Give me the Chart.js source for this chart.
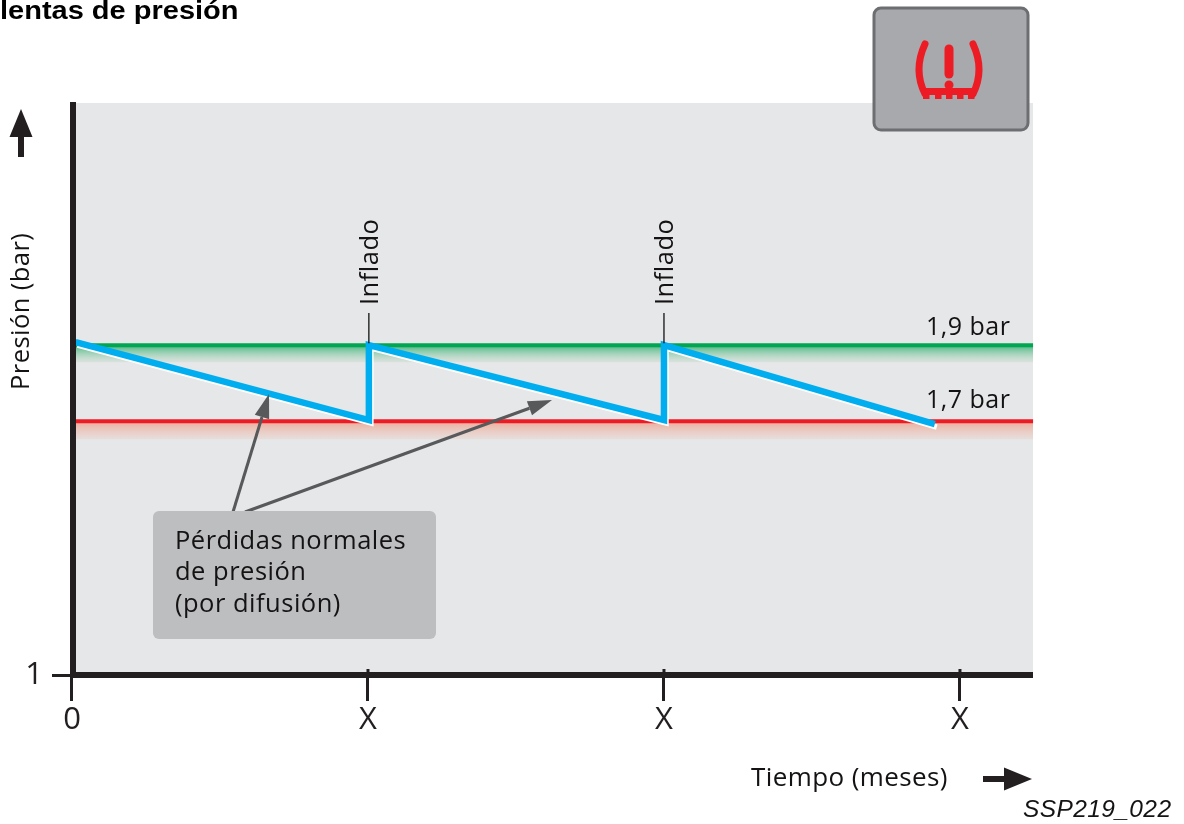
<!DOCTYPE html>
<html>
<head>
<meta charset="utf-8">
<title>Pérdidas lentas de presión</title>
<script src="https://cdn.jsdelivr.net/npm/chart.js@4/dist/chart.umd.min.js"></script>
<style>
html, body { margin: 0; padding: 0; background: #fff; }
canvas { display: block; }
</style>
</head>
<body>
<canvas id="presionChart" width="1184" height="824"></canvas>
<script>
// values (the y axis is only schematic below 1,7 bar)
const tickValuesX = [0, 1, 2, 3];
const tickLabelsX = ['0', 'X', 'X', 'X'];
const tickValuesY = [1.032];
const tickLabelsY = ['1'];

const limitX = [0, 3.247];
const limitGreen = [1.9, 1.9];
const limitRed = [1.7, 1.7];

const pressureX = [0.012, 1.003, 1.003, 2.0, 2.0, 2.915];
const pressureY = [1.908, 1.703, 1.9, 1.703, 1.9, 1.692];

const inflatedAt = [1.003, 2.0];

const TEXT_FONT = '"Open Sans", "Noto Sans", sans-serif';
const ARIAL_FONT = '"Liberation Sans", Arial, sans-serif';
const DARK = '#231f20';
const INK = '#141213';
const GREY_ARROW = '#58595b';
const AXIS_OVERHANG = 2; // axis borders run past the scale ends by this much

function pairs(xs, ys) {
  return xs.map((x, i) => ({ x: x, y: ys[i] }));
}

function label(ctx, text, x, y, size, opts) {
  opts = opts || {};
  ctx.save();
  ctx.font = (opts.style || '') + ' ' + size + 'px ' + (opts.family || TEXT_FONT);
  ctx.fillStyle = opts.color || INK;
  ctx.textAlign = opts.align || 'left';
  ctx.textBaseline = 'alphabetic';
  ctx.letterSpacing = opts.spacing || '0px';
  ctx.translate(x, y);
  if (opts.rotate) ctx.rotate(opts.rotate);
  if (opts.stretch) ctx.scale(opts.stretch, 1);
  ctx.fillText(text, 0, 0);
  ctx.restore();
}

function arrowLine(ctx, x1, y1, x2, y2, headLen, headHalf, width, color) {
  const a = Math.atan2(y2 - y1, x2 - x1);
  const bx = x2 - Math.cos(a) * headLen;
  const by = y2 - Math.sin(a) * headLen;
  ctx.strokeStyle = color;
  ctx.fillStyle = color;
  ctx.lineWidth = width;
  ctx.beginPath();
  ctx.moveTo(x1, y1);
  ctx.lineTo(bx, by);
  ctx.stroke();
  ctx.beginPath();
  ctx.moveTo(x2, y2);
  ctx.lineTo(bx - Math.sin(a) * headHalf, by + Math.cos(a) * headHalf);
  ctx.lineTo(bx + Math.sin(a) * headHalf, by - Math.cos(a) * headHalf);
  ctx.closePath();
  ctx.fill();
}

function roundBox(ctx, x, y, w, h, r) {
  ctx.beginPath();
  ctx.roundRect(x, y, w, h, r);
}

function band(ctx, area, top, depth, color, fade) {
  const g = ctx.createLinearGradient(0, top, 0, top + depth);
  g.addColorStop(0, color);
  g.addColorStop(1, fade);
  ctx.fillStyle = g;
  ctx.fillRect(area.left, top, area.right + AXIS_OVERHANG - area.left, depth);
}

function drawWarningIcon(ctx) {
  ctx.save();
  roundBox(ctx, 874, 8, 154, 122, 7);
  ctx.fillStyle = '#a7a9ac';
  ctx.fill();
  ctx.strokeStyle = '#6d6e71';
  ctx.lineWidth = 3;
  ctx.stroke();

  const red = '#ed1c24';
  ctx.strokeStyle = red;
  ctx.fillStyle = red;
  ctx.lineCap = 'round';
  ctx.lineWidth = 7;
  ctx.beginPath();
  ctx.moveTo(925, 44);
  ctx.quadraticCurveTo(913, 70, 925, 94);
  ctx.stroke();
  ctx.beginPath();
  ctx.moveTo(973, 44);
  ctx.quadraticCurveTo(985, 70, 973, 94);
  ctx.stroke();
  ctx.fillRect(923, 88, 52, 7);
  [923, 935, 946, 957, 968].forEach(x => ctx.fillRect(x, 95, 6.5, 4));
  ctx.lineWidth = 9;
  ctx.beginPath();
  ctx.moveTo(949, 49);
  ctx.lineTo(949, 74);
  ctx.stroke();
  ctx.beginPath();
  ctx.arc(949, 85, 4.5, 0, Math.PI * 2);
  ctx.fill();
  ctx.restore();
}

const backdrop = {
  id: 'backdrop',
  beforeDraw(chart) {
    const ctx = chart.ctx;
    const area = chart.chartArea;
    const y = chart.scales.y;
    ctx.save();
    ctx.fillStyle = '#e6e7e8';
    ctx.fillRect(area.left, area.top - AXIS_OVERHANG, area.right + AXIS_OVERHANG - area.left, area.bottom - area.top + AXIS_OVERHANG);
    band(ctx, area, y.getPixelForValue(1.9), 17, 'rgba(0,166,81,0.7)', 'rgba(180,210,190,0.25)');
    band(ctx, area, y.getPixelForValue(1.7), 18, 'rgba(243,130,100,0.6)', 'rgba(235,190,175,0.25)');
    ctx.restore();
  },
  // white edge sits just under and right of the blue line
  beforeDatasetDraw(chart, args) {
    if (args.meta.label === 'Sombra') {
      chart.ctx.save();
      chart.ctx.translate(2, 3);
    }
  },
  afterDatasetDraw(chart, args) {
    if (args.meta.label === 'Sombra') chart.ctx.restore();
  }
};

const decorations = {
  id: 'decorations',
  afterDraw(chart) {
    const ctx = chart.ctx;
    const x = chart.scales.x;
    const y = chart.scales.y;
    ctx.save();

    // ticks poke slightly into the plot
    ctx.strokeStyle = DARK;
    ctx.lineWidth = 3;
    tickValuesX.slice(1).forEach(v => {
      const px = x.getPixelForValue(v);
      ctx.beginPath();
      ctx.moveTo(px, y.bottom);
      ctx.lineTo(px, y.bottom - 6);
      ctx.stroke();
    });

    // inflado markers
    inflatedAt.forEach(v => {
      const px = x.getPixelForValue(v);
      ctx.strokeStyle = '#000';
      ctx.lineWidth = 1.2;
      ctx.beginPath();
      ctx.moveTo(px, y.getPixelForValue(1.9) - 2);
      ctx.lineTo(px, 313);
      ctx.stroke();
      label(ctx, 'Inflado', px + 9, 305, 25.5, { rotate: -Math.PI / 2, spacing: '0.5px' });
    });

    label(ctx, '1,9 bar', 926, 335, 25, { spacing: '0.5px' });
    label(ctx, '1,7 bar', 926, 408, 25, { spacing: '0.5px' });

    // callout
    arrowLine(ctx, 233, 512, 269, 394, 24, 7.5, 3, GREY_ARROW);
    arrowLine(ctx, 245, 512, 552, 400, 24, 7.5, 3, GREY_ARROW);
    roundBox(ctx, 153, 511, 283, 128, 6);
    ctx.fillStyle = '#bcbec0';
    ctx.fill();
    label(ctx, 'Pérdidas normales', 175, 549, 25.5, { spacing: '0.5px' });
    label(ctx, 'de presión', 175, 580, 25.5, { spacing: '0.5px' });
    label(ctx, '(por difusión)', 175, 612, 25.5, { spacing: '0.5px' });

    // axis titles and arrows
    label(ctx, 'Presión (bar)', 29, 390, 25.6, { rotate: -Math.PI / 2, spacing: '0.4px' });
    label(ctx, 'Tiempo (meses)', 751, 786, 26, { spacing: '0.4px' });
    arrowLine(ctx, 21, 157, 21, 109, 28, 11.5, 6, DARK);
    arrowLine(ctx, 983, 779, 1032, 779, 28, 11.5, 6, DARK);

    label(ctx, 'lentas de presión', 0, 19, 25, { style: 'bold', family: ARIAL_FONT, color: '#000', stretch: 1.16 });
    label(ctx, 'SSP219_022', 1023, 817, 24.5, { style: 'italic', family: ARIAL_FONT, spacing: '0.4px' });

    drawWarningIcon(ctx);
    ctx.restore();
  }
};

const ctx = document.getElementById('presionChart').getContext('2d');
const presionChart = new Chart(ctx, {
  type: 'line',
  data: {
    datasets: [
      { label: 'Azul', data: pairs(pressureX, pressureY), borderColor: '#00aeef', borderWidth: 6.5, order: 1 },
      { label: 'Sombra', data: pairs(pressureX, pressureY), borderColor: '#ffffff', borderWidth: 5.5, order: 2 },
      { label: '1,7 bar', data: pairs(limitX, limitRed), borderColor: '#ed1c24', borderWidth: 4, order: 3, clip: false },
      { label: '1,9 bar', data: pairs(limitX, limitGreen), borderColor: '#00a651', borderWidth: 4, order: 4, clip: false }
    ]
  },
  options: {
    responsive: false,
    animation: false,
    layout: { padding: { top: 105, right: 153, left: 0, bottom: 0 } },
    elements: {
      point: { radius: 0 },
      line: { tension: 0, borderJoinStyle: 'miter', borderCapStyle: 'butt' }
    },
    scales: {
      x: {
        type: 'linear',
        min: 0.0034,
        max: 3.24,
        afterFit: scale => { scale.height = 149; },
        afterBuildTicks: scale => { scale.ticks = tickValuesX.map(v => ({ value: v })); },
        border: { color: DARK, width: 6, z: 1 },
        grid: { drawOnChartArea: false, color: DARK, lineWidth: 3, tickLength: 26 },
        ticks: {
          autoSkip: false,
          maxRotation: 0,
          padding: 1,
          color: DARK,
          font: { family: 'Open Sans', size: 31 },
          callback: (v, i) => tickLabelsX[i]
        }
      },
      y: {
        type: 'linear',
        min: tickValuesY[0],
        max: 2.532,
        afterFit: scale => { scale.width = 73; },
        afterBuildTicks: scale => { scale.ticks = tickValuesY.map(v => ({ value: v })); },
        border: { color: DARK, width: 6, z: 1 },
        grid: { drawOnChartArea: false, color: DARK, lineWidth: 3, tickLength: 21 },
        ticks: {
          autoSkip: false,
          padding: 9,
          color: DARK,
          font: { family: 'Open Sans', size: 31 },
          callback: (v, i) => tickLabelsY[i]
        }
      }
    },
    plugins: { legend: { display: false }, tooltip: { enabled: false } }
  },
  plugins: [backdrop, decorations]
});
</script>
</body>
</html>
